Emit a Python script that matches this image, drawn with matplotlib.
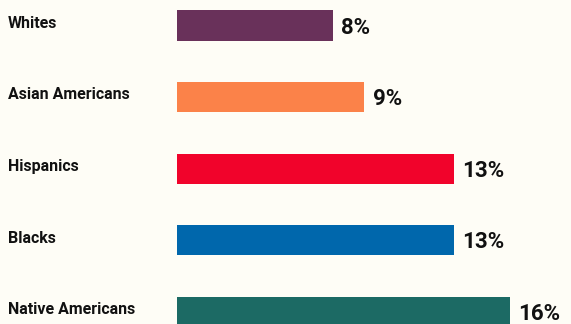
import matplotlib.pyplot as plt

groups = ['Whites', 'Asian Americans', 'Hispanics', 'Blacks', 'Native Americans']
# bar lengths (percent), labels as printed
values = [7.5, 9.0, 13.3, 13.3, 16.0]
labels = ['8%', '9%', '13%', '13%', '16%']
colors = ['#69315a', '#fb8249', '#f1032b', '#0067ac', '#1c6a64']

plt.rcParams['font.family'] = ['Roboto', 'DejaVu Sans']

fig = plt.figure(figsize=(5.71, 3.24), dpi=100)
fig.patch.set_facecolor('#fefdf6')
ax = fig.add_axes([177 / 571, 0, 1 - 177 / 571, 1])
ax.set_facecolor('#fefdf6')

y = range(len(groups))
ax.barh(y, values, height=0.42, color=colors)
ax.set_xlim(0, 18.94)
ax.set_ylim(4.168, -0.356)

# value labels just right of each bar
for i, (v, lab) in enumerate(zip(values, labels)):
    ax.text(v + 0.4, i + 0.03, lab, va='center', ha='left',
            fontsize=16, fontweight='bold', color='#111111')

# category labels at left edge of figure, aligned with bars
for i, g in enumerate(groups):
    ax.annotate(g, xy=(8 / 571, i - 0.03), xycoords=('figure fraction', 'data'),
                va='center', ha='left', fontsize=11.5, fontweight='bold',
                color='#111111', annotation_clip=False)

ax.set_xticks([])
ax.set_yticks([])
for s in ax.spines.values():
    s.set_visible(False)

fig.savefig('out.png', dpi=100, facecolor=fig.get_facecolor())
